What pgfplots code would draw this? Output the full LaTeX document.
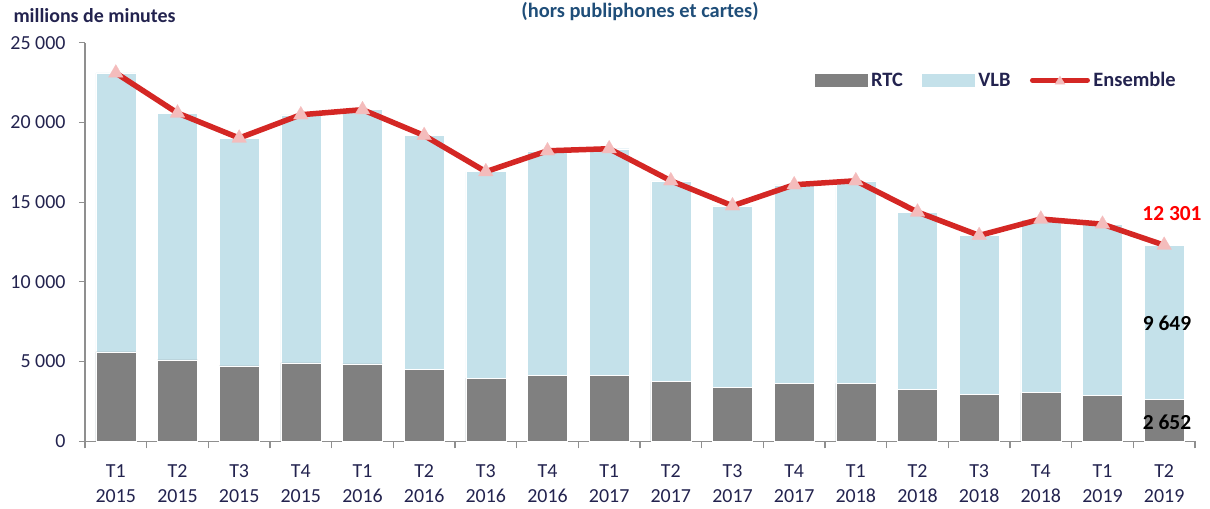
\documentclass[border=0pt]{standalone}
\usepackage{fontspec}
\setmainfont{Carlito}
\usepackage{pgfplots}
\usepackage{pgfplotstable}
\pgfplotsset{compat=1.18}
\definecolor{rtc}{HTML}{808080}
\definecolor{vlb}{HTML}{C4E1EA}
\definecolor{ens}{HTML}{D42724}
\definecolor{mk}{HTML}{F4BCBC}
\definecolor{navy}{HTML}{23234F}
\definecolor{ttl}{HTML}{1F4E79}
\definecolor{axg}{HTML}{8F8F8F}
\pgfplotstableread{
x rtc total
0 5610 23100
1 5100 20590
2 4730 19020
3 4920 20480
4 4860 20800
5 4520 19180
6 3970 16910
7 4120 18220
8 4140 18350
9 3740 16340
10 3390 14770
11 3620 16090
12 3640 16340
13 3280 14380
14 2930 12910
15 3050 13940
16 2860 13620
17 2652 12301
}\data
\begin{document}
\begin{tikzpicture}
\useasboundingbox (0bp,0bp) rectangle (1210bp,509bp);
\begin{axis}[
  at={(85bp,67.7bp)}, anchor=south west,
  scale only axis, width=1110bp, height=398.6bp,
  xmin=-0.5, xmax=17.5, ymin=0, ymax=25000,
  scaled y ticks=false,
  axis x line*=bottom, axis y line*=left,
  axis line style={axg, line width=1.2bp, -},
  ytick={0,5000,10000,15000,20000,25000},
  yticklabels={0,5 000,10 000,15 000,20 000,25 000},
  xtick={0,...,17},
  xticklabels={T1\\2015,T2\\2015,T3\\2015,T4\\2015,T1\\2016,T2\\2016,T3\\2016,T4\\2016,T1\\2017,T2\\2017,T3\\2017,T4\\2017,T1\\2018,T2\\2018,T3\\2018,T4\\2018,T1\\2019,T2\\2019},
  xticklabel style={align=center, yshift=-14bp},
  yticklabel style={xshift=-10bp},
  minor xtick={-0.5,0.5,...,17.5},
  major x tick style={draw=none},
  tick align=outside,
  major tick length=6bp, minor tick length=7bp,
  tick style={axg, line width=1.2bp},
  ticklabel style={font=\fontsize{20}{25}\selectfont, text=navy},
  legend columns=3,
  legend style={at={(rel axis cs:0.655,0.906)}, anchor=west, draw=none, fill=none,
    font=\bfseries\fontsize{20.5}{24}\selectfont, text=navy,
    nodes={inner sep=1.5bp},
    /tikz/every odd column/.append style={column sep=2bp},
    /tikz/every even column/.append style={column sep=18bp}},
  clip=false,
]
\addplot[ybar, bar width=40bp, bar shift=0pt, fill=vlb, draw=white, line width=0.4bp, forget plot] table[x=x,y=total]{\data};
\addplot[ybar, bar width=40bp, bar shift=0pt, fill=rtc, draw=white, line width=0.4bp, forget plot] table[x=x,y=rtc]{\data};
\addplot[ens, line width=5.5bp, line join=round, mark=triangle*, mark size=8.5bp, mark options={solid, fill=mk, draw=mk, line width=0.2bp}, forget plot] table[x=x,y=total]{\data};
\addlegendimage{legend image code/.code={\fill[rtc] (0bp,-6bp) rectangle (52bp,6bp);}}
\addlegendentry{RTC}
\addlegendimage{legend image code/.code={\fill[vlb] (0bp,-6bp) rectangle (52bp,6bp);}}
\addlegendentry{VLB}
\addlegendimage{legend image code/.code={\draw[ens, line width=5bp, line cap=round] (0bp,0bp) -- (55bp,0bp); \fill[mk] (22.5bp,-4bp) -- (32.5bp,-4bp) -- (27.5bp,4bp) -- cycle;}}
\addlegendentry{Ensemble}
\end{axis}
\node[font=\bfseries\fontsize{20}{24}\selectfont, text=navy, anchor=west] at (10bp,493bp) {millions de minutes};
\node[font=\bfseries\fontsize{20.5}{24}\selectfont, text=ttl] at (640bp,497bp) {(hors publiphones et cartes)};
\node[font=\bfseries\fontsize{21.5}{24}\selectfont, text=red] at (1172bp,295bp) {12 301};
\node[font=\bfseries\fontsize{21.5}{24}\selectfont, text=black] at (1167bp,186bp) {9 649};
\node[font=\bfseries\fontsize{21.5}{24}\selectfont, text=black] at (1167bp,87bp) {2 652};
\end{tikzpicture}
\end{document}
